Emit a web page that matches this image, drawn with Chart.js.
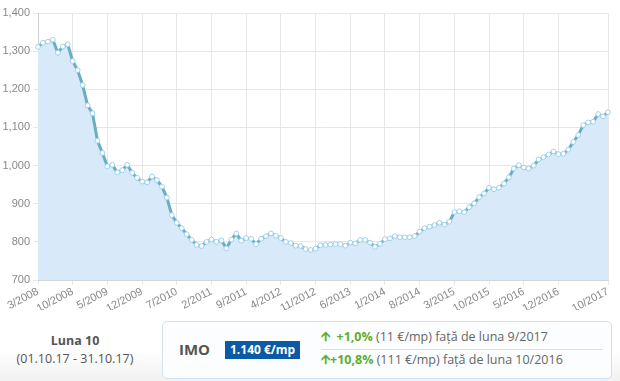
<!DOCTYPE html>
<html>
<head>
<meta charset="utf-8">
<script src="https://cdn.jsdelivr.net/npm/chart.js@4"></script>
<style>
  body { margin: 0; width: 620px; height: 381px; background: #fff; font-family: "Open Sans", sans-serif; overflow: hidden; position: relative; }
  #wrap { position: absolute; left: 0; top: 0; width: 620px; height: 310px; }
  #footer { position: absolute; left: 0; top: 312px; width: 620px; height: 69px; background: linear-gradient(#fff 55%, #f1f1f1); }
  #luna { position: absolute; left: 0; top: 20px; width: 150px; text-align: center; color: #555; font-size: 12.5px; line-height: 18px; }
  #luna b { font-weight: 700; }
  #box { position: absolute; left: 162px; top: 9px; width: 448px; height: 56px; border: 1px solid #d3e2f1; border-radius: 5px; background: #fbfdff; }
  #imo { position: absolute; left: 16px; top: 17px; font-size: 15px; font-weight: 700; color: #555; }
  #badge { position: absolute; left: 62px; top: 19px; padding: 0 5px; height: 18px; line-height: 18px; background: #0a5aa6; color: #fff; font-size: 12px; font-weight: 700; }
  .row { position: absolute; left: 158px; font-size: 12.5px; color: #666; white-space: nowrap; }
  .row .up { color: #5fae2e; font-weight: 700; }
  #r1 { top: 6px; }
  #r2 { top: 29px; }
  #sep { position: absolute; left: 158px; top: 27px; width: 282px; height: 1px; background: #d3e2f1; }
</style>
</head>
<body>
<div id="wrap"><canvas id="chartImo"></canvas></div>
<div id="footer">
  <div id="luna"><b>Luna 10</b><br>(01.10.17 - 31.10.17)</div>
  <div id="box">
    <div id="imo">IMO</div>
    <div id="badge">1.140 €/mp</div>
    <div class="row" id="r1"><span class="up">&#129129;&nbsp; +1,0%</span> (11 €/mp) față de luna 9/2017</div>
    <div id="sep"></div>
    <div class="row" id="r2"><span class="up">&#129129;+10,8%</span> (111 €/mp) față de luna 10/2016</div>
  </div>
</div>
<script>
// lunar, 3/2008 - 10/2017 (€/mp)
const valori = [
  1311, 1322, 1325, 1330, 1296, 1312, 1318, 1274, 1250, 1211,            // 2008 (3-12)
  1158, 1137, 1065, 1033, 998, 1002, 982, 988, 1002, 981, 968, 958,      // 2009
  956, 971, 962, 945, 916, 870, 850, 836, 820, 805, 792, 789,            // 2010
  800, 806, 800, 804, 783, 806, 822, 803, 810, 808, 794, 808,            // 2011
  815, 822, 816, 810, 800, 797, 790, 789, 781, 779, 782, 791,            // 2012
  792, 793, 794, 794, 790, 798, 796, 805, 805, 798, 787, 795,            // 2013
  807, 809, 815, 812, 812, 812, 815, 827, 836, 840, 844, 850,            // 2014
  845, 853, 878, 880, 878, 891, 901, 917, 927, 942, 938, 942,            // 2015
  953, 969, 992, 1001, 995, 992, 1000, 1016, 1022, 1029, 1037, 1030,     // 2016
  1031, 1042, 1062, 1080, 1106, 1113, 1115, 1135, 1129, 1140             // 2017 (1-10)
];

const luni = [];
for (let a = 2008; a <= 2017; a++) {
  for (let m = 1; m <= 12; m++) {
    if (a === 2008 && m < 3) continue;
    if (a === 2017 && m > 10) continue;
    luni.push(m + "/" + a);
  }
}

const etichete = ["3/2008", "10/2008", "5/2009", "12/2009", "7/2010", "2/2011", "9/2011", "4/2012",
  "11/2012", "6/2013", "1/2014", "8/2014", "3/2015", "10/2015", "5/2016", "12/2016", "10/2017"];

const gri = "#e7e7e7";

const ctx = document.getElementById("chartImo");
new Chart(ctx, {
  type: "line",
  data: {
    labels: luni,
    datasets: [{
      data: valori,
      borderColor: "#6aafc0",
      borderWidth: 3,
      backgroundColor: "#d8e9f9",
      fill: "start",
      tension: 0,
      pointRadius: 2.4,
      pointBorderWidth: 1,
      pointBackgroundColor: "#ffffff",
      pointBorderColor: "#9fd3ee"
    }]
  },
  options: {
    responsive: true,
    maintainAspectRatio: false,
    animation: false,
    layout: { padding: { top: 13, right: 12, left: 0, bottom: 0 } },
    plugins: { legend: { display: false }, tooltip: { enabled: false } },
    scales: {
      x: {
        offset: false,
        afterFit: s => { s.height = 30; },
        border: { color: "#d5d5d5" },
        grid: {
          tickLength: 5,
          color: c => etichete.includes(luni[c.index]) ? gri : "rgba(0,0,0,0)"
        },
        ticks: {
          autoSkip: false,
          minRotation: 28,
          maxRotation: 28,
          padding: 0,
          color: "#888",
          font: { family: "Liberation Sans", size: 11 },
          callback: (v, i) => etichete.includes(luni[i]) ? luni[i] : ""
        }
      },
      y: {
        min: 700,
        max: 1400,
        afterFit: s => { s.width = 38; },
        border: { color: "#cfcfcf" },
        grid: { color: gri, tickLength: 5 },
        ticks: {
          stepSize: 100,
          padding: 3,
          color: "#888",
          font: { family: "Liberation Sans", size: 11 },
          callback: v => v.toLocaleString("en-US")
        }
      }
    }
  }
});
</script>
</body>
</html>
